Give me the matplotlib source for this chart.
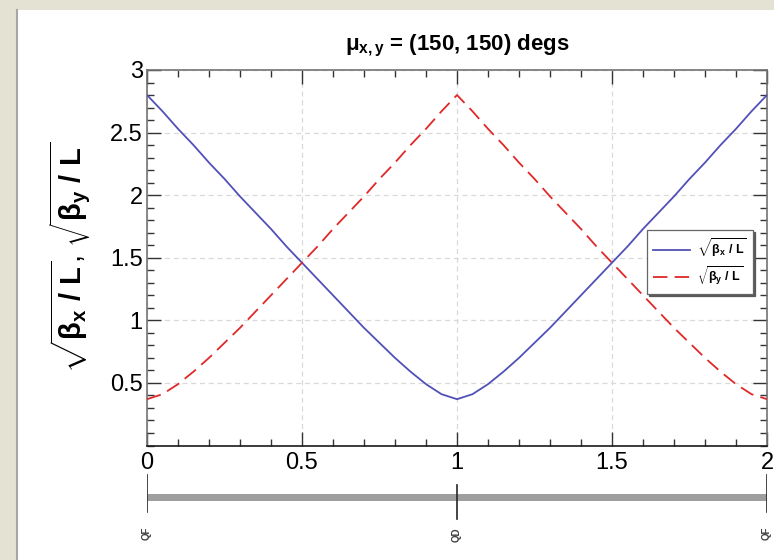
import matplotlib
matplotlib.use("Agg")
import matplotlib.pyplot as plt
from matplotlib.ticker import MultipleLocator
from matplotlib.patches import Rectangle

# ---- data -------------------------------------------------------------
s_over_L = [0.00, 0.05, 0.10, 0.15, 0.20, 0.25, 0.30, 0.35, 0.40, 0.45,
            0.50, 0.55, 0.60, 0.65, 0.70, 0.75, 0.80, 0.85, 0.90, 0.95,
            1.00, 1.05, 1.10, 1.15, 1.20, 1.25, 1.30, 1.35, 1.40, 1.45,
            1.50, 1.55, 1.60, 1.65, 1.70, 1.75, 1.80, 1.85, 1.90, 1.95,
            2.00]
sqrt_beta_x = [2.80, 2.67, 2.53, 2.40, 2.26, 2.13, 1.99, 1.86, 1.73, 1.59,
               1.46, 1.33, 1.20, 1.07, 0.94, 0.82, 0.70, 0.59, 0.49, 0.41,
               0.37, 0.41, 0.49, 0.59, 0.70, 0.82, 0.94, 1.07, 1.20, 1.33,
               1.46, 1.59, 1.73, 1.86, 1.99, 2.13, 2.26, 2.40, 2.53, 2.67,
               2.80]
sqrt_beta_y = [0.37, 0.41, 0.49, 0.59, 0.70, 0.82, 0.94, 1.07, 1.20, 1.33,
               1.46, 1.59, 1.73, 1.86, 1.99, 2.13, 2.26, 2.40, 2.53, 2.67,
               2.80, 2.67, 2.53, 2.40, 2.26, 2.13, 1.99, 1.86, 1.73, 1.59,
               1.46, 1.33, 1.20, 1.07, 0.94, 0.82, 0.70, 0.59, 0.49, 0.41,
               0.37]

x_ticks = [0, 0.5, 1, 1.5, 2]
x_tick_labels = ["0", "0.5", "1", "1.5", "2"]
y_ticks = [0.5, 1, 1.5, 2, 2.5, 3]
y_tick_labels = ["0.5", "1", "1.5", "2", "2.5", "3"]

# lattice: thin quadrupoles (position, name, +1 focusing / -1 defocusing)
quad_pos = [0.0, 1.0, 2.0]
quad_name = ["QF", "QD", "QF"]
quad_kind = [1, -1, 1]

title = r"$\mu_{x,y}$ = (150, 150) degs"
ylabel = r"$\sqrt{\beta_x\ /\ L}$, $\sqrt{\beta_y\ /\ L}$"
leg_x = r"$\sqrt{\beta_x\ /\ L}$"
leg_y = r"$\sqrt{\beta_y\ /\ L}$"

# ---- style ------------------------------------------------------------
plt.rcParams["font.family"] = ["Liberation Sans", "DejaVu Sans"]
plt.rcParams["mathtext.fontset"] = "custom"
plt.rcParams["mathtext.rm"] = "Liberation Sans:bold"
plt.rcParams["mathtext.it"] = "Liberation Sans:bold"
plt.rcParams["mathtext.bf"] = "Liberation Sans:bold"

W, H = 774, 560
fig = plt.figure(figsize=(W / 100, H / 100), dpi=100)
fig.patch.set_facecolor("#e4e2d3")

# white panel
fig.patches.append(Rectangle((17 / W, 0), 1 - 17 / W, (H - 10) / H,
                             transform=fig.transFigure, facecolor="white",
                             edgecolor="none", zorder=-2))
fig.lines.append(plt.Line2D([16.5 / W, 16.5 / W], [0, (H - 10) / H],
                            transform=fig.transFigure, color="0.65", lw=1.5,
                            zorder=-1))

ax_l, ax_r, ax_t, ax_b = 147, 767, 70, 445.5
ax = fig.add_axes([ax_l / W, (H - ax_b) / H, (ax_r - ax_l) / W, (ax_b - ax_t) / H])
ax.set_facecolor("white")

ax.plot(s_over_L, sqrt_beta_x, color="#5050b8", lw=1.3, label=leg_x, zorder=3)
ax.plot(s_over_L, sqrt_beta_y, color="#e02828", lw=1.3, ls=(0, (8, 4)),
        label=leg_y, zorder=3)

ax.set_xlim(0, 2)
ax.set_ylim(0, 3)
ax.set_xticks(x_ticks)
ax.set_xticklabels(x_tick_labels)
ax.set_yticks(y_ticks)
ax.set_yticklabels(y_tick_labels)
ax.xaxis.set_minor_locator(MultipleLocator(0.1))
ax.yaxis.set_minor_locator(MultipleLocator(0.1))
ax.tick_params(which="both", direction="in", top=True, right=True,
               color="0.2", width=1.0)
ax.tick_params(which="major", length=10, labelsize=17, pad=3)
ax.tick_params(which="minor", length=5)
ax.tick_params(axis="x", which="major", pad=5)
for sp in ax.spines.values():
    sp.set_color("0.45")
    sp.set_linewidth(1.2)
ax.spines["bottom"].set_color("0.1")

ax.grid(True, which="major", color="0.85", lw=0.9, ls=(0, (4, 3)))
ax.set_axisbelow(True)

ax.set_title(title, fontsize=16, fontweight="bold", pad=14)
ax.set_ylabel(ylabel, fontsize=21, labelpad=12)

leg = ax.legend(loc="upper left", bbox_to_anchor=(0.806, 0.574),
                fontsize=9, frameon=True, fancybox=False,
                handlelength=3.0, handletextpad=0.5, borderpad=0.5,
                labelspacing=0.45, borderaxespad=0,
                shadow={"ox": 1.5, "oy": -1.5, "color": "0.35", "alpha": 1.0})
leg.get_frame().set_edgecolor("0.4")
leg.get_frame().set_linewidth(0.9)

# ---- lattice strip under the plot -------------------------------------
lat_top, lat_bot = 470, 560
lat = fig.add_axes([ax_l / W, (H - lat_bot) / H, (ax_r - ax_l) / W,
                    (lat_bot - lat_top) / H])
lat.set_xlim(0, 2)
lat.set_ylim(-63, 27)
lat.axis("off")
lat.patch.set_alpha(0)
lat.plot([quad_pos[0], quad_pos[-1]], [0, 0], color="0.62", lw=5,
         solid_capstyle="butt", zorder=1)
for p, name, k in zip(quad_pos, quad_name, quad_kind):
    top, bot = (22, -15) if k > 0 else (12, -22)
    lat.plot([p, p], [bot, top], color="0.15", lw=1.2, zorder=2)
    lat.text(p, -30, name, rotation=90, ha="center", va="top",
             fontsize=7, color="0.25", fontweight="bold",
             family="Liberation Sans")

fig.savefig("out.png", dpi=100, facecolor=fig.get_facecolor())
